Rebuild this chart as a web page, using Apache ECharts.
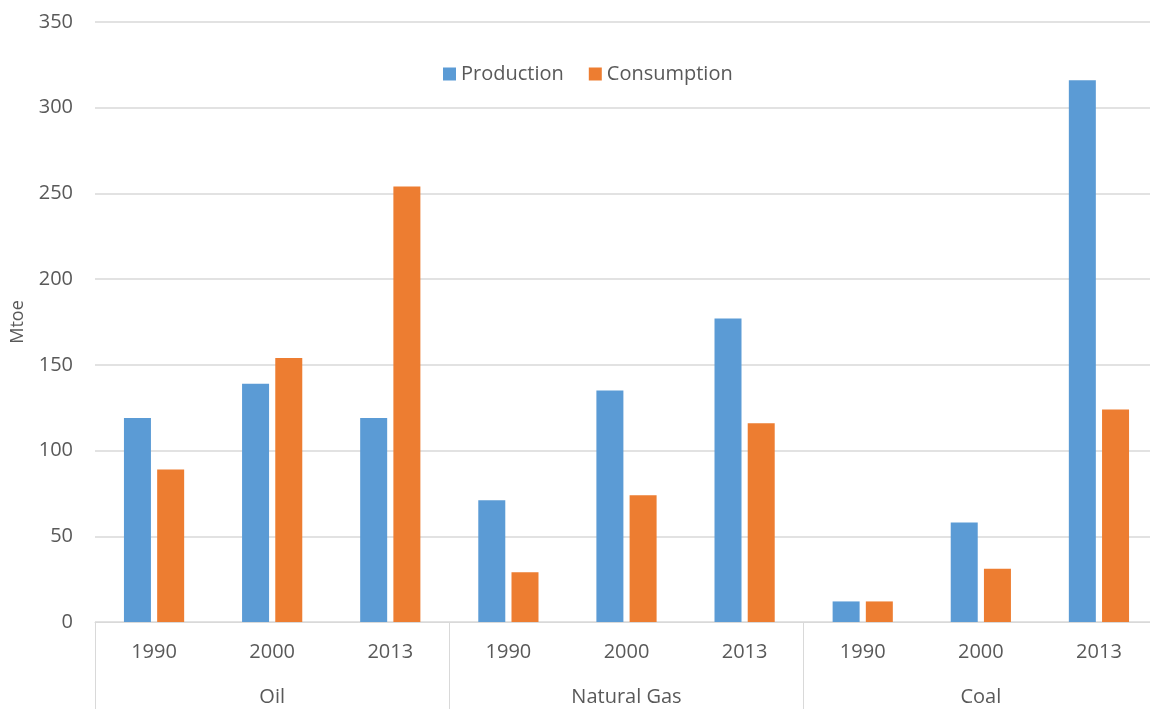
<!DOCTYPE html>
<html>
<head>
<meta charset="utf-8">
<script src="https://cdn.jsdelivr.net/npm/echarts@6/dist/echarts.min.js"></script>
<style>html,body{margin:0;padding:0;background:#fff}#c{width:1150px;height:709px}</style>
</head>
<body>
<div id="c"></div>
<script>
const groups = ['Oil', 'Natural Gas', 'Coal'];
const years = ['1990', '2000', '2013'];
const production = [119, 139, 119, 71, 135, 177, 12, 58, 316];
const consumption = [89, 154, 254, 29, 74, 116, 12, 31, 124];
const yTicks = { min: 0, max: 350, interval: 50 };

const yearLabels = [];
groups.forEach(() => years.forEach(y => yearLabels.push(y)));

const FONT = '"Open Sans", "Noto Sans", sans-serif';
const TXT = '#595959';
const GRID = '#d9d9d9';

const chart = echarts.init(document.getElementById('c'), null, { renderer: 'canvas' });
chart.setOption({
  animation: false,
  backgroundColor: '#fff',
  textStyle: { fontFamily: FONT },
  legend: {
    left: 443, top: 64, padding: 0,
    itemWidth: 13, itemHeight: 13, itemGap: 25, icon: 'rect',
    textStyle: { fontSize: 20, color: TXT, fontFamily: FONT },
    data: ['Production', 'Consumption']
  },
  grid: { left: 95, top: 22, width: 1063, height: 600, containLabel: false, outerBoundsMode: 'none' },
  xAxis: [
    {
      type: 'category', data: yearLabels, position: 'bottom',
      axisLine: { show: true, lineStyle: { color: GRID, width: 1 } },
      axisTick: { show: false },
      axisLabel: { fontSize: 20, color: TXT, margin: 20, fontFamily: FONT, interval: 0 }
    },
    {
      type: 'category', data: groups, position: 'bottom', gridIndex: 0,
      axisLine: { show: false },
      axisTick: { show: true, length: 95, interval: 0, lineStyle: { color: GRID, width: 1 } },
      axisLabel: { fontSize: 20, color: TXT, margin: 65, fontFamily: FONT, interval: 0 }
    }
  ],
  yAxis: {
    type: 'value', min: yTicks.min, max: yTicks.max, interval: yTicks.interval,
    name: 'Mtoe', nameLocation: 'middle', nameGap: 68, nameRotate: 90,
    nameTextStyle: { fontSize: 18, color: TXT, fontFamily: FONT },
    axisLine: { show: false }, axisTick: { show: false },
    axisLabel: { fontSize: 20, color: TXT, margin: 22, fontFamily: FONT },
    splitLine: { lineStyle: { color: GRID, width: 1.5 } }
  },
  series: [
    { name: 'Production', type: 'bar', xAxisIndex: 0, data: production, barWidth: 27, barGap: '23%',
      itemStyle: { color: '#5B9BD5' } },
    { name: 'Consumption', type: 'bar', xAxisIndex: 0, data: consumption, barWidth: 27, barGap: '23%',
      itemStyle: { color: '#ED7D31' } }
  ]
});
</script>
</body>
</html>
